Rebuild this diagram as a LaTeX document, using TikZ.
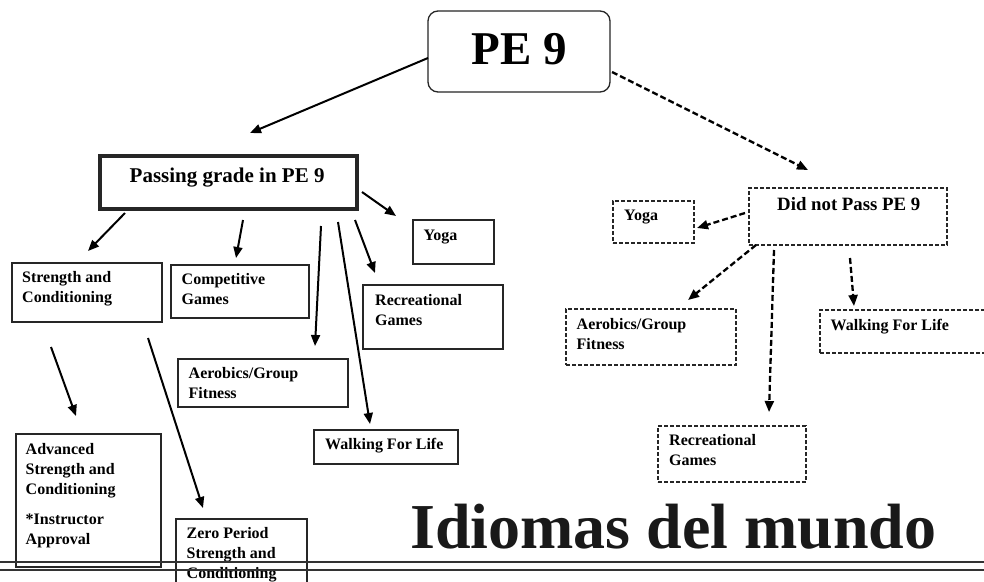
\documentclass[tikz,border=0pt]{standalone}
\usepackage{fontspec}
\setmainfont{Liberation Serif}
\usetikzlibrary{arrows.meta}
\begin{document}
\begin{tikzpicture}[x=1pt,y=-1pt,
 bx/.style={draw=black!85, line width=1.3pt, inner sep=0pt, outer sep=0pt},
 dbx/.style={bx, dash pattern=on 4pt off 2pt},
 lbl/.style={font=\bfseries\fontsize{16}{20}\selectfont, anchor=base west, inner sep=0pt, align=left},
 arr/.style={line width=2pt, -{Triangle[length=11pt,width=9pt]}},
 darr/.style={arr, line width=2.3pt, dash pattern=on 6pt off 3pt},
]
\useasboundingbox (0,0) rectangle (984,581);
\fill[white] (0,0) rectangle (984,581);
% boxes
\node[bx, rounded corners=10pt, minimum width=182pt, minimum height=81pt] (pe) at (519,51.5) {};
\node[bx, line width=4.5pt, minimum width=257pt, minimum height=53pt] (pass) at (228.5,182.5) {};
\node[bx, minimum width=150pt, minimum height=59pt] (sc) at (87,292.5) {};
\node[bx, minimum width=138pt, minimum height=53pt] (cg) at (240,291.5) {};
\node[bx, minimum width=81pt, minimum height=44pt] (yg) at (453.5,242) {};
\node[bx, minimum width=140pt, minimum height=64pt] (rg) at (433,317) {};
\node[bx, minimum width=170pt, minimum height=48pt] (ag) at (263,383) {};
\node[bx, minimum width=144pt, minimum height=34pt] (wl) at (386,447) {};
\node[bx, minimum width=145pt, minimum height=133pt] (adv) at (88.5,500.5) {};
\node[bx, minimum width=131pt, minimum height=76pt] (zp) at (241.5,557) {};
\node[dbx, minimum width=198pt, minimum height=57pt] (dnp) at (848,216.5) {};
\node[dbx, minimum width=81pt, minimum height=42pt] (dyg) at (653.5,222) {};
\node[dbx, minimum width=170pt, minimum height=56pt] (dag) at (651,337) {};
\node[dbx, minimum width=175pt, minimum height=43pt] (dwl) at (907.5,331.5) {};
\node[dbx, minimum width=148pt, minimum height=56pt] (drg) at (732,454) {};
% texts (anchor = baseline of the last line)
\node[font=\bfseries\fontsize{47}{50}\selectfont, anchor=base west, inner sep=0pt] (pet) at (471.5,64) {PE 9};
\node[font=\bfseries\fontsize{21}{24}\selectfont, anchor=base west, inner sep=0pt] (passt) at (129.5,182.5) {Passing grade in PE 9};
\node[lbl] (sct) at (22,302.5) {Strength and\\Conditioning};
\node[lbl] (cgt) at (181.5,304) {Competitive\\Games};
\node[lbl] (ygt) at (423.5,240) {Yoga};
\node[lbl] (rgt) at (375,325.5) {Recreational\\Games};
\node[lbl] (agt) at (188.5,398) {Aerobics/Group\\Fitness};
\node[lbl] (wlt) at (325,449) {Walking For Life};
\node[lbl] (advt) at (25.5,544.3) {Advanced\\Strength and\\Conditioning\\[10pt]*Instructor\\Approval};
\node[lbl] (zpt) at (186.5,578.3) {Zero Period\\Strength and\\Conditioning};
\node[font=\bfseries\fontsize{18.8}{22}\selectfont, anchor=base west, inner sep=0pt] (dnpt) at (777,210) {Did not Pass PE 9};
\node[lbl] (dygt) at (624,220.5) {Yoga};
\node[lbl] (dagt) at (576.5,349.5) {Aerobics/Group\\Fitness};
\node[lbl] (dwlt) at (830.5,330) {Walking For Life};
\node[lbl] (drgt) at (669,465.5) {Recreational\\Games};
\node[font=\bfseries\fontsize{64}{70}\selectfont, anchor=base west, inner sep=0pt, text=black!90] (title) at (410,548) {Idiomas del mundo};
% rules
\draw[line width=2pt, black!80] (0,561.5) -- (984,561.5);
\draw[line width=2pt, black!80] (0,569.5) -- (984,569.5);
% arrow end points
\coordinate (a1s) at (428,58);   \coordinate (a1e) at (250,133);
\coordinate (a2s) at (612,72);   \coordinate (a2e) at (808,170);
\coordinate (a3s) at (125,213);  \coordinate (a3e) at (88,251);
\coordinate (a4s) at (243,220);  \coordinate (a4e) at (236,258);
\coordinate (a5s) at (321,226);  \coordinate (a5e) at (315,346);
\coordinate (a6s) at (338,222);  \coordinate (a6e) at (370,424);
\coordinate (a7s) at (355,220);  \coordinate (a7e) at (375,273);
\coordinate (a8s) at (362,192);  \coordinate (a8e) at (396,216);
\coordinate (a9s) at (51,347);   \coordinate (a9e) at (76,416);
\coordinate (a10s) at (148,338); \coordinate (a10e) at (203,508);
\coordinate (d1s) at (745,213);  \coordinate (d1e) at (697,228);
\coordinate (d2s) at (756,245);  \coordinate (d2e) at (688,300);
\coordinate (d3s) at (774,250);  \coordinate (d3e) at (769,412);
\coordinate (d4s) at (850,258);  \coordinate (d4e) at (854,306);
\draw[arr] (a1s) -- (a1e);
\draw[darr] (a2s) -- (a2e);
\draw[arr] (a3s) -- (a3e);
\draw[arr] (a4s) -- (a4e);
\draw[arr] (a5s) -- (a5e);
\draw[arr] (a6s) -- (a6e);
\draw[arr] (a7s) -- (a7e);
\draw[arr] (a8s) -- (a8e);
\draw[arr] (a9s) -- (a9e);
\draw[arr] (a10s) -- (a10e);
\draw[darr] (d1s) -- (d1e);
\draw[darr] (d2s) -- (d2e);
\draw[darr] (d3s) -- (d3e);
\draw[darr] (d4s) -- (d4e);
\end{tikzpicture}
\end{document}
